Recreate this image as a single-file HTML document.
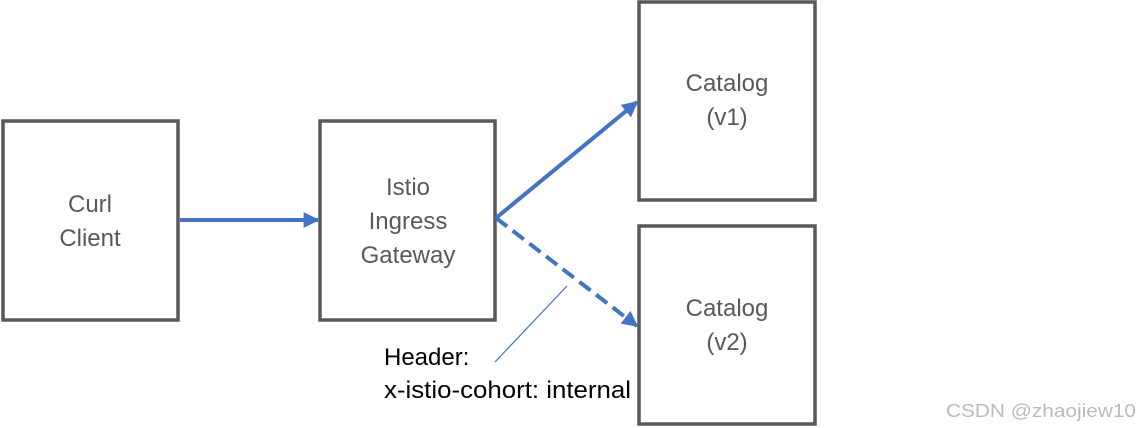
<!DOCTYPE html>
<html><head><meta charset="utf-8"><style>
html,body{margin:0;padding:0;background:#fff;width:1139px;height:428px;overflow:hidden}
svg{display:block}
text{font-family:"Liberation Sans",sans-serif}
</style></head><body>
<svg width="1139" height="428" viewBox="0 0 1139 428" xmlns="http://www.w3.org/2000/svg">
<defs>
<marker id="ah" markerWidth="4" markerHeight="4" refX="3.6" refY="2" orient="auto" markerUnits="strokeWidth">
<path d="M0,0 L4,2 L0,4 z" fill="#4472C4"/></marker>
</defs>
<g fill="none" stroke="#595959" stroke-width="3.5">
<rect x="3" y="121" width="175" height="199"/>
<rect x="320" y="121" width="175" height="199"/>
<rect x="639" y="2" width="176" height="198"/>
<rect x="639" y="226" width="176" height="198"/>
</g>
<g stroke="#4472C4" stroke-width="4" fill="none">
<line x1="180" y1="220" x2="318" y2="220" marker-end="url(#ah)"/>
<line x1="496" y1="218" x2="637" y2="102" marker-end="url(#ah)"/>
<line x1="496" y1="218" x2="637" y2="326" stroke-dasharray="14,7" marker-end="url(#ah)"/>
</g>
<line x1="567" y1="286" x2="495" y2="362" stroke="#4472C4" stroke-width="1.2"/>
<g fill="#595959" font-size="24" text-anchor="middle">
<text x="90" y="212">Curl</text>
<text x="90" y="246">Client</text>
<text x="408" y="195">Istio</text>
<text x="408" y="229">Ingress</text>
<text x="408" y="263">Gateway</text>
<text x="727" y="91">Catalog</text>
<text x="727" y="125">(v1)</text>
<text x="727" y="316">Catalog</text>
<text x="727" y="350">(v2)</text>
</g>
<g fill="#000" font-size="24">
<text x="384" y="365">Header:</text>
<text x="384" y="398" textLength="247" lengthAdjust="spacingAndGlyphs">x-istio-cohort: internal</text>
</g>
<text x="946" y="417" fill="#bbb" font-size="18" textLength="190" lengthAdjust="spacingAndGlyphs">CSDN @zhaojiew10</text>
</svg>
</body></html>
